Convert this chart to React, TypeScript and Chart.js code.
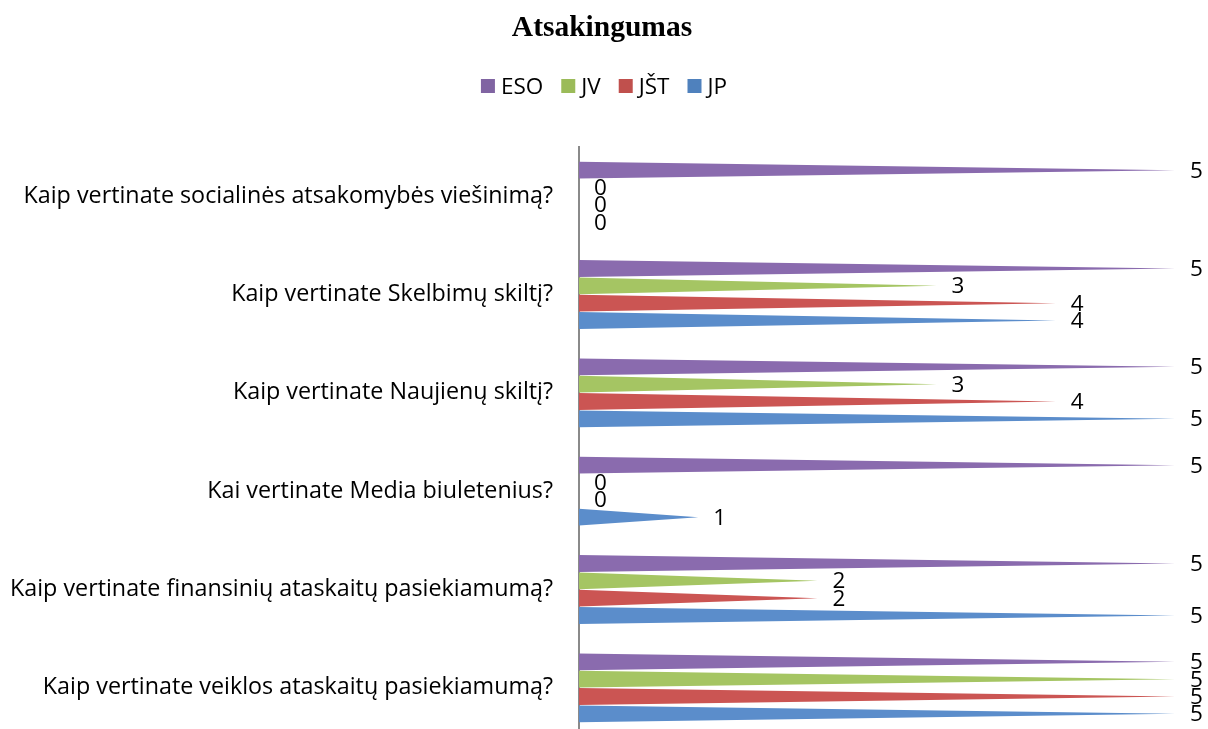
import React, { useEffect, useRef } from "react";
import { Chart, registerables } from "chart.js";

Chart.register(...registerables);

const chartTitle = "Atsakingumas";
const categories = [
  "Kaip vertinate socialinės atsakomybės viešinimą?",
  "Kaip vertinate Skelbimų skiltį?",
  "Kaip vertinate Naujienų skiltį?",
  "Kai vertinate Media biuletenius?",
  "Kaip vertinate finansinių ataskaitų pasiekiamumą?",
  "Kaip vertinate veiklos ataskaitų pasiekiamumą?",
];
const seriesNames = ["ESO", "JV", "JŠT", "JP"];
const esoValues = [5, 5, 5, 5, 5, 5];
const jvValues = [0, 3, 3, 0, 2, 5];
const jstValues = [0, 4, 4, 0, 2, 5];
const jpValues = [0, 4, 5, 1, 5, 5];
const xMin = 0;
const xMax = 5;

const legendColors = ["#8064A2", "#9BBB59", "#C0504D", "#4F81BD"];
const barColors = ["#8A6BAE", "#A5C563", "#CB5553", "#5B8DCB"];

const textFont = "'Open Sans', 'Noto Sans', sans-serif";
const textSize = 23.3;
const legendSize = 22.5;
const CANVAS_W = 1208;
const CANVAS_H = 737;

// Bars are drawn as flat pyramids: full thickness at the base, tapering to a point at the value.
const pyramidBars = {
  id: "pyramidBars",
  beforeDatasetsDraw(chart: any) {
    const ctx = chart.ctx;
    ctx.save();
    chart.data.datasets.forEach((ds: any, i: number) => {
      const meta = chart.getDatasetMeta(i);
      meta.data.forEach((el: any) => {
        const { x, y, base, height } = el.getProps(["x", "y", "base", "height"], true);
        if (x - base < 0.5) return;
        ctx.fillStyle = barColors[i];
        ctx.beginPath();
        ctx.moveTo(base, y - height / 2);
        ctx.lineTo(x, y);
        ctx.lineTo(base, y + height / 2);
        ctx.closePath();
        ctx.fill();
      });
    });
    ctx.restore();
    return false;
  },
};

// Value labels, title and legend.
const decorations = {
  id: "decorations",
  afterDraw(chart: any) {
    const ctx = chart.ctx;
    ctx.save();

    // value labels
    ctx.font = `${legendSize}px ${textFont}`;
    ctx.fillStyle = "#000";
    ctx.textAlign = "left";
    ctx.textBaseline = "middle";
    chart.data.datasets.forEach((ds: any, i: number) => {
      const meta = chart.getDatasetMeta(i);
      meta.data.forEach((el: any, j: number) => {
        const { x, y } = el.getProps(["x", "y"], true);
        ctx.fillText(String(ds.data[j]), x + 15, y + 1);
      });
    });

    // title
    ctx.font = `bold 29.5px 'Liberation Serif', 'Times New Roman', serif`;
    ctx.textAlign = "center";
    ctx.textBaseline = "alphabetic";
    ctx.fillText(chartTitle, CANVAS_W / 2 - 2, 36);

    // legend
    ctx.font = `${legendSize}px ${textFont}`;
    ctx.textAlign = "left";
    const box = 14;
    const gap = 6;
    const spacing = 18;
    const widths = seriesNames.map((n) => ctx.measureText(n).width);
    const total =
      widths.reduce((a, w) => a + box + gap + w, 0) + spacing * (seriesNames.length - 1);
    let lx = CANVAS_W / 2 - total / 2;
    const boxTop = 79;
    seriesNames.forEach((n, i) => {
      ctx.fillStyle = legendColors[i];
      ctx.fillRect(lx, boxTop, box, box);
      ctx.fillStyle = "#000";
      ctx.fillText(n, lx + box + gap, boxTop + box + 1);
      lx += box + gap + widths[i] + spacing;
    });

    ctx.restore();
  },
};

export default function App() {
  const canvasRef = useRef<HTMLCanvasElement | null>(null);

  useEffect(() => {
    if (!canvasRef.current) return;
    const chart = new Chart(canvasRef.current, {
      type: "bar",
      data: {
        labels: categories,
        datasets: [
          { label: seriesNames[0], data: esoValues, backgroundColor: barColors[0] },
          { label: seriesNames[1], data: jvValues, backgroundColor: barColors[1] },
          { label: seriesNames[2], data: jstValues, backgroundColor: barColors[2] },
          { label: seriesNames[3], data: jpValues, backgroundColor: barColors[3] },
        ],
      },
      options: {
        indexAxis: "y",
        responsive: false,
        animation: false,
        devicePixelRatio: 1,
        categoryPercentage: 0.705,
        barPercentage: 0.97,
        layout: { padding: { top: 147, right: 33, bottom: 0, left: 0 } },
        plugins: {
          legend: { display: false },
          title: { display: false },
          tooltip: { enabled: false },
        },
        scales: {
          x: { display: false, min: xMin, max: xMax },
          y: {
            grid: { display: false, drawTicks: false },
            border: { display: true, color: "#8a8a8a", width: 2 },
            ticks: {
              autoSkip: false,
              padding: 26,
              color: "#000",
              font: { family: textFont, size: textSize },
            },
            afterFit(scale: any) {
              scale.width = 579;
              scale.paddingTop = 0;
              scale.paddingBottom = 0;
            },
          },
        },
      },
      plugins: [pyramidBars, decorations],
    } as any);
    return () => chart.destroy();
  }, []);

  return (
    <div
      style={{
        position: "fixed",
        left: 0,
        top: 0,
        width: CANVAS_W,
        height: 729,
        overflow: "hidden",
        background: "#fff",
      }}
    >
      <canvas
        ref={canvasRef}
        width={CANVAS_W}
        height={CANVAS_H}
        style={{ display: "block", width: CANVAS_W, height: CANVAS_H }}
      />
    </div>
  );
}
